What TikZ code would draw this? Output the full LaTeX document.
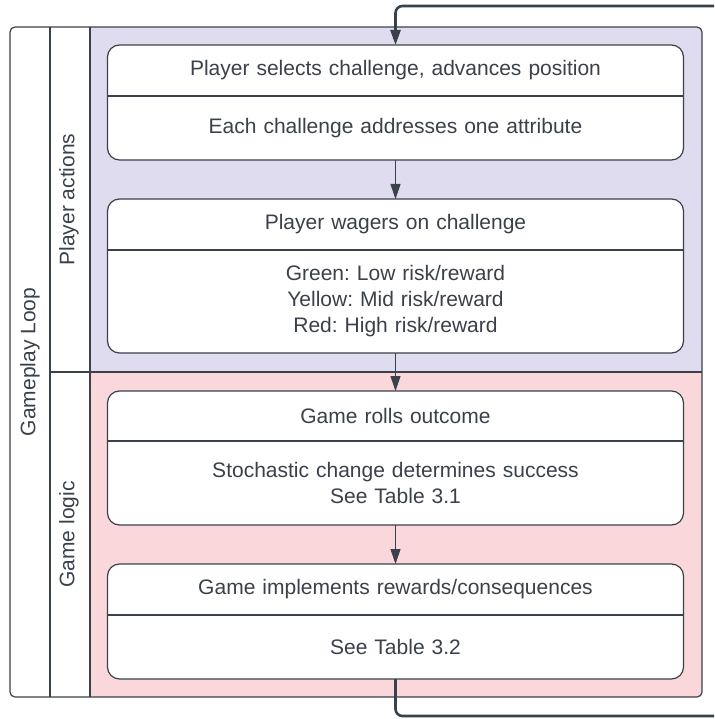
\documentclass[tikz,border=0pt]{standalone}
\usepackage{fontspec}
\setsansfont{Liberation Sans}
\usetikzlibrary{positioning}
\usetikzlibrary{arrows.meta}
\usetikzlibrary{backgrounds}
\frenchspacing
\definecolor{lineGray}{HTML}{3A414A}
\definecolor{laneViolet}{HTML}{DEDCEE}
\definecolor{laneRose}{HTML}{FAD7DA}
\tikzset{every picture/.style={/utils/exec={\sffamily}}}
\tikzset{
  head/.style={minimum width=576pt, minimum height=51pt, inner sep=0pt,
    outer sep=0pt, text width=560pt, align=center},
  body/.style={head, minimum height=64pt},
  card/.style={draw=lineGray, line width=1.2pt, fill=white, rounded corners=12pt},
  link/.style={draw=lineGray, line width=1pt, -{Triangle[length=15pt,width=10pt]}},
  loopline/.style={draw=lineGray, line width=2.6pt, rounded corners=7pt},
  laneline/.style={draw=lineGray, line width=1.2pt},
}

\begin{document}
\begin{tikzpicture}[x=1pt, y=1pt,
    every node/.style={text=lineGray, font=\fontsize{21}{26}\selectfont}]
  \useasboundingbox (0,0) rectangle (714,-719);

  \begin{scope}[node distance=0pt]
    \node[head] (pick) at (395.5,-70.5)       {Player selects challenge, advances position};
    \node[body, below=of pick] (pickNote)      {Each challenge addresses one attribute};
    \node[head, below=39pt of pickNote] (wager) {Player wagers on challenge};
    \node[body, minimum height=103pt, below=of wager] (wagerNote)
      {Green: Low risk/reward\\Yellow: Mid risk/reward\\Red: High risk/reward};
    \node[head, minimum height=50pt, below=38pt of wagerNote] (roll) {Game rolls outcome};
    \node[body, minimum height=84pt, below=of roll] (rollNote)
      {Stochastic change determines success\\See Table 3.1};
    \node[head, below=39pt of rollNote] (apply) {Game implements rewards/consequences};
    \node[body, below=of apply] (applyNote)    {See Table 3.2};
  \end{scope}

  % swimlanes
  \node[rotate=90] (loopTag) at (30,-362)    {Gameplay Loop};
  \node[rotate=90] (actionTag) at (69,-199.5) {Player actions};
  \node[rotate=90] (logicTag) at (69,-534.5)  {Game logic};

  \begin{scope}[on background layer]
    \begin{scope}
      \clip[rounded corners=5pt] (10,-27) rectangle (702,-697);
      \fill[laneViolet] (90,-27) rectangle (702,-372);
      \fill[laneRose] (90,-372) rectangle (702,-697);
    \end{scope}
    \draw[laneline, rounded corners=5pt] (10,-27) rectangle (702,-697);
    \draw[laneline] (50,-27) -- (50,-697);
    \draw[laneline] (90,-27) -- (90,-697);
    \draw[laneline] (50,-372) -- (702,-372);

    % cards
    \foreach \top/\bot in {pick/pickNote, wager/wagerNote, roll/rollNote, apply/applyNote} {
      \draw[card] (\top.north west) rectangle (\bot.south east);
      \draw[laneline] (\top.south west) -- (\top.south east);
    }
  \end{scope}

  \draw[link] (pickNote) -- (wager);
  \draw[link] (wagerNote) -- (roll);
  \draw[link] (rollNote) -- (apply);

  % loop back
  \coordinate (loopIn) at (714,-6);
  \coordinate (loopOut) at (714,-716);
  \draw[loopline, -{Triangle[length=15pt,width=10pt]}] (loopIn) -| (pick.north);
  \draw[loopline] (applyNote.south) |- (loopOut);
\end{tikzpicture}
\end{document}
